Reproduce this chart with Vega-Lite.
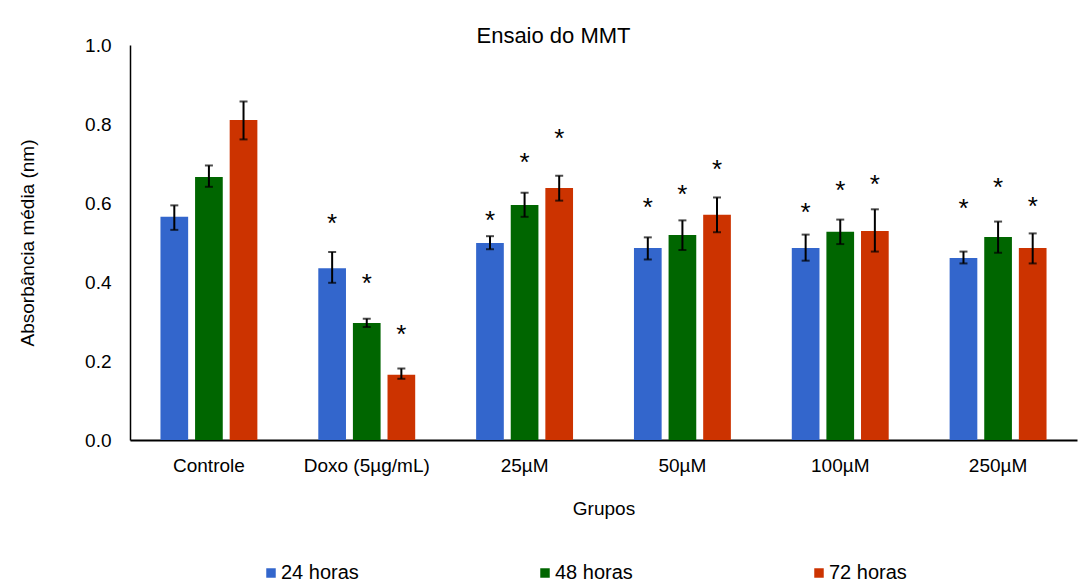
{
  "$schema": "https://vega.github.io/schema/vega-lite/v6.json",
  "autosize": "none",
  "width": 947,
  "height": 395,
  "padding": {"left": 130, "top": 45, "right": 8, "bottom": 145},
  "background": "white",
  "config": {
    "font": "Liberation Sans",
    "view": {"stroke": null},
    "axis": {"labelFont": "Liberation Sans", "titleFont": "Liberation Sans", "labelColor": "#000000", "titleColor": "#000000", "titleFontWeight": "normal", "grid": false, "ticks": false}
  },
  "title": {"text": "Ensaio do MMT", "fontSize": 22, "fontWeight": "normal", "color": "#000000", "font": "Liberation Sans", "anchor": "middle", "dx": -50, "offset": -12},
  "data": {"values": [
    {"grupo": "Controle", "tempo": "24 horas", "media": 0.565, "lo": 0.532, "hi": 0.594, "ast": null},
    {"grupo": "Controle", "tempo": "48 horas", "media": 0.666, "lo": 0.641, "hi": 0.695, "ast": null},
    {"grupo": "Controle", "tempo": "72 horas", "media": 0.810, "lo": 0.761, "hi": 0.857, "ast": null},
    {"grupo": "Doxo (5µg/mL)", "tempo": "24 horas", "media": 0.435, "lo": 0.398, "hi": 0.476, "ast": 0.562},
    {"grupo": "Doxo (5µg/mL)", "tempo": "48 horas", "media": 0.296, "lo": 0.286, "hi": 0.307, "ast": 0.410},
    {"grupo": "Doxo (5µg/mL)", "tempo": "72 horas", "media": 0.165, "lo": 0.155, "hi": 0.181, "ast": 0.281},
    {"grupo": "25µM", "tempo": "24 horas", "media": 0.499, "lo": 0.483, "hi": 0.516, "ast": 0.570},
    {"grupo": "25µM", "tempo": "48 horas", "media": 0.595, "lo": 0.565, "hi": 0.626, "ast": 0.716},
    {"grupo": "25µM", "tempo": "72 horas", "media": 0.638, "lo": 0.606, "hi": 0.669, "ast": 0.776},
    {"grupo": "50µM", "tempo": "24 horas", "media": 0.486, "lo": 0.457, "hi": 0.513, "ast": 0.603},
    {"grupo": "50µM", "tempo": "48 horas", "media": 0.519, "lo": 0.481, "hi": 0.556, "ast": 0.635},
    {"grupo": "50µM", "tempo": "72 horas", "media": 0.570, "lo": 0.526, "hi": 0.614, "ast": 0.698},
    {"grupo": "100µM", "tempo": "24 horas", "media": 0.486, "lo": 0.454, "hi": 0.520, "ast": 0.589},
    {"grupo": "100µM", "tempo": "48 horas", "media": 0.527, "lo": 0.496, "hi": 0.558, "ast": 0.646},
    {"grupo": "100µM", "tempo": "72 horas", "media": 0.529, "lo": 0.477, "hi": 0.584, "ast": 0.661},
    {"grupo": "250µM", "tempo": "24 horas", "media": 0.461, "lo": 0.447, "hi": 0.477, "ast": 0.601},
    {"grupo": "250µM", "tempo": "48 horas", "media": 0.514, "lo": 0.474, "hi": 0.553, "ast": 0.654},
    {"grupo": "250µM", "tempo": "72 horas", "media": 0.486, "lo": 0.447, "hi": 0.523, "ast": 0.606}
  ]},
  "encoding": {
    "x": {"field": "grupo", "type": "nominal", "sort": null,
      "scale": {"paddingInner": 0.386, "paddingOuter": 0.193},
      "axis": {"title": "Grupos", "labelAngle": 0, "labelFontSize": 19, "titleFontSize": 19, "labelPadding": 16, "titlePadding": 24, "domainColor": "#000000", "domainWidth": 2}},
    "xOffset": {"field": "tempo", "type": "nominal", "sort": ["24 horas", "48 horas", "72 horas"], "scale": {"paddingInner": 0.2, "paddingOuter": 0}}
  },
  "layer": [
    {
      "mark": {"type": "bar"},
      "encoding": {
        "y": {"field": "media", "type": "quantitative",
          "scale": {"domain": [0, 1], "nice": false},
          "axis": {"title": "Absorbância média (nm)", "values": [0, 0.2, 0.4, 0.6, 0.8, 1.0], "format": ".1f", "labelFontSize": 19, "titleFontSize": 19, "labelPadding": 19, "titlePadding": 47, "domainColor": "#000000", "domainWidth": 1.5}},
        "color": {"field": "tempo", "type": "nominal",
          "scale": {"domain": ["24 horas", "48 horas", "72 horas"], "range": ["#3366CC", "#006600", "#CC3300"]},
          "legend": {"title": null, "orient": "none", "legendX": 131, "legendY": 518, "direction": "horizontal", "columns": 3, "columnPadding": 176, "symbolType": "square", "symbolSize": 90, "symbolStrokeWidth": 0, "labelFontSize": 20, "labelFont": "Liberation Sans", "labelColor": "#000000", "labelOffset": 0}}
      }
    },
    {
      "mark": {"type": "rule", "color": "#000000", "strokeWidth": 2},
      "encoding": {"y": {"field": "lo", "type": "quantitative"}, "y2": {"field": "hi"}}
    },
    {
      "mark": {"type": "tick", "color": "#000000", "thickness": 2, "size": 8},
      "encoding": {"y": {"field": "lo", "type": "quantitative"}}
    },
    {
      "mark": {"type": "tick", "color": "#000000", "thickness": 2, "size": 8},
      "encoding": {"y": {"field": "hi", "type": "quantitative"}}
    },
    {
      "transform": [{"filter": "datum.ast != null"}],
      "mark": {"type": "text", "text": "*", "fontSize": 26, "font": "Liberation Sans", "color": "#000000", "baseline": "middle", "dy": 6},
      "encoding": {"y": {"field": "ast", "type": "quantitative"}}
    }
  ]
}
